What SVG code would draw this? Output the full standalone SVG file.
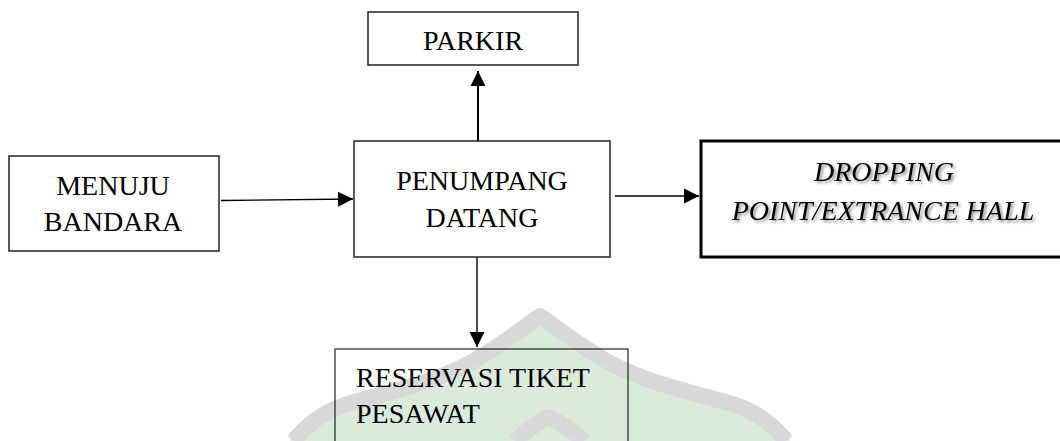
<svg xmlns="http://www.w3.org/2000/svg" width="1060" height="441" viewBox="0 0 1060 441">
<style>
  .box{fill:#fff;stroke:#222;stroke-width:1.5}
  .lbl{font-family:'Liberation Serif','Times New Roman',serif;font-size:28px;fill:#000}
  .mid{text-anchor:middle}
  .conn{stroke:#000;stroke-width:1.4;fill:none}
  .wm-band{fill:none;stroke:#d8d8d8;stroke-width:16;stroke-linejoin:round}
  .wm-fill{fill:#d9ecd9;stroke:none}
</style>
<defs>
  <marker id="arr" markerUnits="userSpaceOnUse" markerWidth="16" markerHeight="16" refX="15" refY="8" orient="auto">
    <path d="M0,0.5 L15,8 L0,15.5 Z" fill="#000"/>
  </marker>
  <filter id="shadow" x="-10%" y="-30%" width="120%" height="160%">
    <feDropShadow dx="2" dy="2" stdDeviation="1.4" flood-color="#000" flood-opacity="0.45"/>
  </filter>
</defs>
<rect width="1060" height="441" fill="#fff"/>
<g id="watermark">
  <path class="wm-fill" d="M290,441 C300,428 315,410 345,400 C380,388 430,378 470,356 C500,340 525,320 540,308 C555,320 580,340 610,356 C650,378 700,388 735,400 C765,410 780,428 790,441 Z"/>
  <path class="wm-band" d="M294,441 C304,428 318,414 345,405 C380,394 432,384 472,362 C502,345 526,326 540,316 C554,326 578,345 608,362 C648,384 700,394 735,405 C762,414 776,428 786,441"/>
  <path class="wm-band" stroke-width="14" d="M515,441 C526,431 537,423 549,417 C561,423 573,431 584,441"/>
</g>
<g id="connectors">
  <line class="conn" x1="221" y1="200.5" x2="353" y2="199" marker-end="url(#arr)"/>
  <line class="conn" style="stroke-width:2" x1="478" y1="141" x2="478" y2="71" marker-end="url(#arr)"/>
  <line class="conn" x1="615" y1="196" x2="699" y2="196" marker-end="url(#arr)"/>
  <line class="conn" x1="477" y1="257" x2="477" y2="347" marker-end="url(#arr)"/>
</g>
<g font-family="Liberation Serif, Times New Roman, serif" font-size="28">
<g id="node-menuju">
  <rect class="box" x="9" y="156" width="210" height="95"/>
  <text class="lbl mid" x="113" y="195">MENUJU</text>
  <text class="lbl mid" x="113" y="231">BANDARA</text>
</g>
<g id="node-parkir">
  <rect class="box" x="368" y="12" width="210" height="53"/>
  <text class="lbl mid" x="473" y="50">PARKIR</text>
</g>
<g id="node-penumpang">
  <rect class="box" x="354" y="141" width="256" height="116"/>
  <text class="lbl mid" x="482" y="190">PENUMPANG</text>
  <text class="lbl mid" x="482" y="227">DATANG</text>
</g>
<g id="node-dropping">
  <rect class="box" style="stroke:#000;stroke-width:3" x="701" y="141" width="362" height="116"/>
  <g filter="url(#shadow)">
    <text class="lbl mid" font-style="italic" x="884" y="181">DROPPING</text>
    <text class="lbl mid" font-style="italic" x="883" y="220">POINT/EXTRANCE HALL</text>
  </g>
</g>
<g id="node-reservasi">
  <rect class="box" style="fill:none;stroke-width:1.2" x="335" y="349" width="293" height="100"/>
  <text class="lbl" x="356" y="387">RESERVASI TIKET</text>
  <text class="lbl" x="356" y="423">PESAWAT</text>
</g>
</g>
</svg>
